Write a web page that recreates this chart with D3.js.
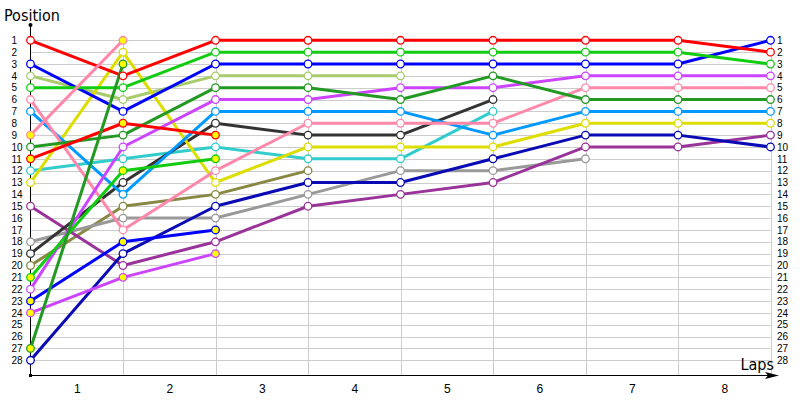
<!DOCTYPE html>
<html>
<head>
<meta charset="utf-8">
<script src="https://cdn.jsdelivr.net/npm/d3@7.9.0/dist/d3.min.js"></script>
<style>
  body { margin: 0; background: #fff; }
  svg { display: block; font-family: "DejaVu Sans Condensed", "DejaVu Sans", sans-serif; }
</style>
</head>
<body>
<svg id="chart" width="800" height="400"></svg>
<script>
// laps 0 (grid) .. 8
const lapLabels = ['1', '2', '3', '4', '5', '6', '7', '8'];
const positionLabels = d3.range(1, 29);

// position of each car at every lap (series stops when car retires)
const red        = [1, 4, 1, 1, 1, 1, 1, 1, 2];
const green      = [5, 5, 2, 2, 2, 2, 2, 2, 3];
const blue       = [3, 7, 3, 3, 3, 3, 3, 3, 1];
const lightGreen = [4, 6, 4, 4, 4];
const darkGreen  = [10, 9, 5, 5, 6, 4, 6, 6, 6];
const magenta    = [22, 10, 6, 6, 5, 5, 4, 4, 4];
const lightBlue  = [7, 14, 7, 7, 7, 9, 7, 7, 7];
const pink       = [6, 17, 12, 8, 8, 8, 5, 5, 5];
const darkGrey   = [19, 13, 8, 9, 9, 6];
const yellow     = [13, 2, 13, 10, 10, 10, 8, 8, 8];
const cyan       = [12, 11, 10, 11, 11, 7];
const olive      = [20, 15, 14, 12];
const navy       = [28, 19, 15, 13, 13, 11, 9, 9, 10];
const grey       = [18, 16, 16, 14, 12, 12, 11];
const purple     = [15, 20, 18, 15, 14, 13, 10, 10, 9];
// second cars (yellow markers)
const red2       = [11, 8, 9];
const green2     = [21, 12, 11];
const blue2      = [23, 18, 17];
const magenta2   = [24, 21, 19];
const pink2      = [9, 1];
const darkGreen2 = [27, 3];

const seriesData = [lightGreen, olive, grey, purple, navy, cyan, darkGrey, yellow,
  lightBlue, pink, magenta, darkGreen, blue, green, red,
  magenta2, blue2, green2, red2, darkGreen2, pink2];
const seriesColors = ['#a8cc6c', '#888844', '#999999', '#993399', '#0a0ab4', '#33cccc', '#333333', '#dddd00',
  '#0099ff', '#ff88aa', '#cc44ff', '#229922', '#0000ff', '#11cc11', '#ff0000',
  '#cc44ff', '#0000ff', '#11cc11', '#ff0000', '#229922', '#ff88aa'];
const seriesSecond = [false, false, false, false, false, false, false, false,
  false, false, false, false, false, false, false,
  true, true, true, true, true, true];

const svg = d3.select('#chart');

const x = d3.scaleLinear().domain([0, 8]).range([30.5, 770.5]);
const y = d3.scaleLinear().domain([1, 28]).range([40.3, 360.3]);
const axisY = 375.5;

// grid
const grid = svg.append('g').attr('stroke', '#cccccc').attr('stroke-width', 1);
grid.selectAll('line.h')
  .data(positionLabels)
  .join('line')
  .attr('class', 'h')
  .attr('x1', x(0)).attr('x2', x(8))
  .attr('y1', d => Math.round(y(d)) + 0.5).attr('y2', d => Math.round(y(d)) + 0.5);
grid.selectAll('line.v')
  .data(d3.range(1, 9))
  .join('line')
  .attr('class', 'v')
  .attr('x1', d => Math.round(x(d)) + 0.5).attr('x2', d => Math.round(x(d)) + 0.5)
  .attr('y1', y(1)).attr('y2', axisY);

// left position labels
const leftAxis = svg.append('g')
  .attr('transform', 'translate(30.5,0)')
  .call(d3.axisLeft(y).tickValues(positionLabels).tickSize(0).tickFormat(d3.format('d')));
leftAxis.select('.domain').remove();
leftAxis.selectAll('text')
  .attr('x', -19).attr('text-anchor', 'start')
  .attr('font-size', 10).attr('font-family', null).attr('fill', '#000');

// right position labels
const rightAxis = svg.append('g')
  .attr('transform', 'translate(776,0)')
  .call(d3.axisRight(y).tickValues(positionLabels).tickSize(0).tickFormat(d3.format('d')));
rightAxis.select('.domain').remove();
rightAxis.selectAll('text')
  .attr('x', 1)
  .attr('font-size', 10).attr('font-family', null).attr('fill', '#000');

// lap labels between lap gridlines
const bottomAxis = svg.append('g')
  .attr('transform', `translate(0,${axisY})`)
  .call(d3.axisBottom(x).tickValues(d3.range(0.5, 8, 1)).tickSize(0)
    .tickFormat((d, i) => lapLabels[i]));
bottomAxis.select('.domain').remove();
bottomAxis.selectAll('text')
  .attr('y', 9)
  .attr('font-size', 12).attr('font-family', null).attr('fill', '#000');

// axis lines
svg.append('line')
  .attr('x1', x(0)).attr('x2', x(0)).attr('y1', 25).attr('y2', axisY)
  .attr('stroke', '#000').attr('stroke-width', 1);
svg.append('line')
  .attr('x1', x(0)).attr('x2', 768).attr('y1', axisY).attr('y2', axisY)
  .attr('stroke', '#000').attr('stroke-width', 1.2);
svg.append('circle').attr('cx', x(0)).attr('cy', 25).attr('r', 2).attr('fill', '#000');
svg.append('rect').attr('x', x(0) - 1.5).attr('y', axisY - 1.5).attr('width', 3).attr('height', 3).attr('fill', '#000');
svg.append('path')
  .attr('d', `M779,${axisY}L765,${axisY - 3.5}L768,${axisY}L765,${axisY + 3.5}Z`)
  .attr('fill', '#000');

svg.append('text')
  .attr('x', 4).attr('y', 21)
  .attr('font-size', 16).attr('fill', '#000')
  .text('Position');
svg.append('text')
  .attr('x', 774).attr('y', 370).attr('text-anchor', 'end')
  .attr('font-size', 16).attr('fill', '#000')
  .text('Laps');

// series lines
const line = d3.line().x((d, i) => x(i)).y(d => y(d));
svg.append('g')
  .selectAll('path')
  .data(seriesData)
  .join('path')
  .attr('d', line)
  .attr('fill', 'none')
  .attr('stroke', (d, i) => seriesColors[i])
  .attr('stroke-width', 3)
  .attr('stroke-linejoin', 'round');

// markers
seriesData.forEach((s, si) => {
  svg.append('g')
    .selectAll('circle')
    .data(s)
    .join('circle')
    .attr('cx', (d, i) => x(i))
    .attr('cy', d => y(d))
    .attr('r', 3.8)
    .attr('fill', seriesSecond[si] ? '#ffff00' : '#ffffff')
    .attr('stroke', seriesColors[si])
    .attr('stroke-width', 1.3);
});
</script>
</body>
</html>
